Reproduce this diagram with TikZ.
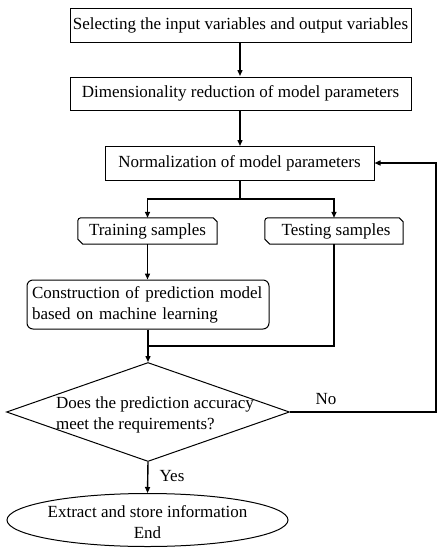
\documentclass[tikz,border=0pt]{standalone}
\usepackage{fontspec}
\setmainfont{Liberation Serif}
\usetikzlibrary{shapes.geometric,arrows.meta}
\newcommand{\cardpath}[1]{%
  \draw[boxline] ([yshift=-3pt]#1.north west) to[out=90,in=180] ([xshift=3pt]#1.north west)
    -- ([xshift=-4pt]#1.north east) -- ([yshift=-4pt]#1.north east)
    -- (#1.south east) -- ([xshift=5pt]#1.south west) -- ([yshift=5pt]#1.south west) -- cycle;}
\begin{document}
\begin{tikzpicture}[x=1pt,y=-1pt,
  txt/.style={font=\fontsize{17}{21}\selectfont},
  boxline/.style={line width=1pt},
  rectbox/.style={txt,draw,boxline,inner sep=0pt},
  card/.style={txt,inner sep=0pt,minimum width=138pt,minimum height=26pt},
  conn/.style={line width=1.4pt,-{Triangle[length=6pt,width=5pt]}},
  plain/.style={line width=1.4pt}
]
\useasboundingbox (0,0) rectangle (444,550);
\fill[white] (0,0) rectangle (444,550);

\node[rectbox,minimum width=341pt,minimum height=34pt] (b1) at (240.5,25) {Selecting the input variables and output variables};
\node[rectbox,minimum width=341pt,minimum height=33pt] (b2) at (240.5,93.5) {Dimensionality reduction of model parameters};
\node[rectbox,minimum width=269pt,minimum height=34pt] (b3) at (239.5,163) {Normalization of model parameters};

\node[card,minimum width=139pt] (train) at (147.5,231) {Training samples};
\node[card] (test) at (334,231) {\hspace*{4pt}Testing samples};
\cardpath{train}
\cardpath{test}

\node[rectbox,rounded corners=6pt,minimum width=242pt,minimum height=49pt,align=left,text width=232pt] (cons) at (148,304.5) {Construction of prediction model\\based on machine learning};

\node[draw,boxline,diamond,minimum width=283pt,minimum height=99pt,inner sep=0pt] (dia) at (148,412) {};
\node[txt,align=left,inner sep=0pt] (dtext) at (155,415) {Does the prediction accuracy\\meet the requirements?};

\node[draw,boxline,ellipse,minimum width=281pt,minimum height=53pt,inner sep=0pt] (ell) at (147.5,520) {};
\node[txt,align=center,inner sep=0pt] (etext) at (147.5,522.5) {Extract and store information\\End};

\coordinate (split) at (240,199);
\coordinate (join) at (148,346);
\coordinate (nocorner) at (436,412);

\draw[conn] (240,42) -- (240,76);
\draw[conn] (240,110) -- (240,146);
\draw[plain] (240,180) -- (split);
\draw[conn] (split) -| (train.north);
\draw[conn] (split) -| (test.north);
\draw[conn] (train.south) -- (train.south |- cons.north);
\draw[conn] (cons.south) -- (dia.north);
\draw[plain] (test.south) |- (join);
\draw[conn] (dia.east) -- (nocorner) |- (b3.east);
\draw[conn] (dia.south) -- (ell.north);

\node[txt,inner sep=0pt] (nolabel) at (326,399) {No};
\node[txt,inner sep=0pt] (yeslabel) at (172,476) {Yes};
\end{tikzpicture}
\end{document}
